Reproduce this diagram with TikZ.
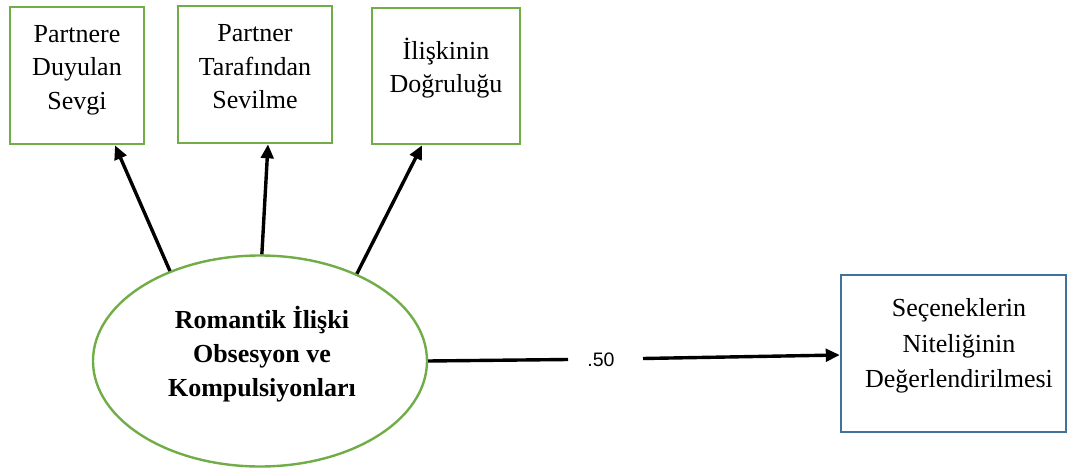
\documentclass[tikz,border=0pt]{standalone}
\usepackage{fontspec}
\setmainfont{Liberation Serif}
\newfontfamily\arialfont{Liberation Sans}
\usetikzlibrary{arrows.meta,shapes.geometric}
\definecolor{boxgreen}{HTML}{70AD47}
\definecolor{boxblue}{HTML}{41719C}
\tikzset{
  gbox/.style={draw=boxgreen, line width=2.6pt, fill=white, inner sep=0pt},
  bbox/.style={draw=boxblue, line width=2.4pt, fill=white, inner sep=0pt},
  txt/.style={align=center, font=\fontsize{26}{33.5}\selectfont, inner sep=0pt},
  rtxt/.style={align=center, font=\fontsize{26}{35.5}\selectfont, inner sep=0pt},
  btxt/.style={align=center, font=\fontsize{26}{34}\selectfont\bfseries, inner sep=0pt},
  conn/.style={line width=3.4pt, -{Triangle[length=14pt,width=12.5pt]}},
  plain/.style={line width=3.4pt},
}
\begin{document}
\begin{tikzpicture}[x=1pt,y=-1pt]
\useasboundingbox (0,0) rectangle (1070,470);
% boxes
\node[gbox, minimum width=134pt, minimum height=137pt] (b1) at (77,75.5) {};
\node[txt] (t1) at (77,70) {Partnere\\Duyulan\\Sevgi};
\node[gbox, minimum width=154pt, minimum height=137pt] (b2) at (255,74.5) {};
\node[txt] (t2) at (255,67) {Partner\\Tarafından\\Sevilme};
\node[gbox, minimum width=148pt, minimum height=136pt] (b3) at (446,76) {};
\node[txt] (t3) at (446,68) {İlişkinin\\Doğruluğu};
\node[bbox, minimum width=225pt, minimum height=157pt] (r) at (953.5,353.5) {};
\node[rtxt] (tr) at (959,346) {Seçeneklerin\\Niteliğinin\\Değerlendirilmesi};
% ellipse
\node[ellipse, draw=boxgreen, line width=2.4pt, minimum width=334pt, minimum height=211pt, inner sep=0pt] (el) at (260,361) {};
\node[btxt] (te) at (262,354) {Romantik İlişki\\Obsesyon ve\\Kompulsiyonları};
% arrows
\draw[conn] (el.135) -- ([xshift=38pt]b1.south);
\draw[conn] (el.89) -- ([xshift=13pt]b2.south);
\draw[conn] (el.42) -- ([xshift=-24pt]b3.south);
\node[font=\arialfont\fontsize{19.5}{22}\selectfont, inner sep=0pt] (lab) at (601,360) {.50};
\coordinate (g1) at (568,359.5);
\coordinate (g2) at (643,358.5);
\draw[plain] (el.east) -- (g1);
\draw[conn] (g2) -- (r.west |- 0,355);
\end{tikzpicture}
\end{document}
